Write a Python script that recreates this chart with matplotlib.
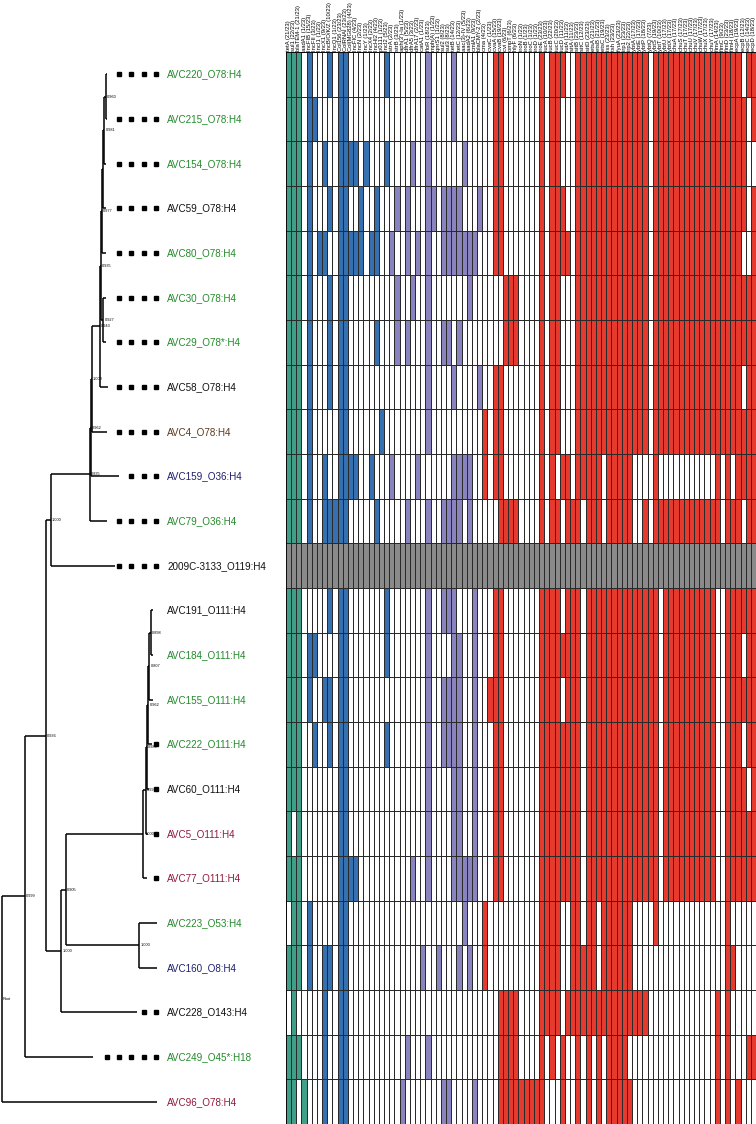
import numpy as np
import matplotlib.pyplot as plt
from matplotlib.colors import ListedColormap

# isolates, top to bottom, and the colour of their labels
isolates = ["AVC220_O78:H4", "AVC215_O78:H4", "AVC154_O78:H4", "AVC59_O78:H4",
            "AVC80_O78:H4", "AVC30_O78:H4", "AVC29_O78*:H4", "AVC58_O78:H4",
            "AVC4_O78:H4", "AVC159_O36:H4", "AVC79_O36:H4", "2009C-3133_O119:H4",
            "AVC191_O111:H4", "AVC184_O111:H4", "AVC155_O111:H4", "AVC222_O111:H4",
            "AVC60_O111:H4", "AVC5_O111:H4", "AVC77_O111:H4", "AVC223_O53:H4",
            "AVC160_O8:H4", "AVC228_O143:H4", "AVC249_O45*:H18", "AVC96_O78:H4"]
label_colors = ["g", "g", "g", "k", "g", "g", "g", "k", "b", "n", "g", "k",
                "k", "g", "g", "g", "k", "r", "r", "g", "n", "k", "g", "r"]
color_map = {"g": "#238a2b", "k": "#111111", "b": "#5a3b1e", "n": "#1f1f6e", "r": "#8e1b3b"}

# gene columns, by group
teal_genes = ["tetA", "sul1", "blaTEM-1", "aadA1"]
blue_genes = ["IncFIB", "IncFII", "IncI1", "IncX1", "IncB/O/K/Z", "IncQ1", "Col156", "ColRNAI",
              "Col(MG828)", "IncFIC", "IncN", "IncY", "IncX4", "IncHI2", "p0111", "IncI2"]
lav_genes = ["strA", "strB", "aph(3')-Ia", "dfrA1", "dfrA5", "dfrA17", "catA1", "floR", "mph(A)",
             "qnrS1", "sul2", "sul3", "tetB", "tetC", "aac(3)-IV", "aadA2", "cmlA1", "blaCMY-2"]
red_genes = ["cma", "cvaC", "cvaA", "cvaB", "cvi", "ompT", "hlyF", "iroN", "iroB", "iroC", "iroD",
             "iroE", "iucA", "iucB", "iucC", "iucD", "iutA", "sitA", "sitB", "sitC", "sitD", "etsA",
             "etsB", "etsC", "iss", "tsh", "fyuA", "irp1", "irp2", "ybtA", "ybtE", "ybtP", "ybtQ",
             "ybtS", "ybtT", "ybtU", "ybtX", "chuA", "chuS", "chuT", "chuU", "chuV", "chuW", "chuX",
             "chuY", "fimA", "fimC", "fimD", "fimH", "ecpA", "ecpB", "ecpC", "ecpD"]
group_colors = ["white", "#3f9f89", "#3571b0", "#8984bf", "#e63a2e", "#8a8a8a"]

# present genes per isolate (column indices), "ref" = reference strain row
presence = [
    "0-2,4,8,10-11,19,27,32,40-41,49,51-53,56-69,71-87,89-90",
    "0-2,4-5,10-11,27,32,40-41,49,51-52,56-69,71-88,90",
    "0-2,4,7,10-13,15,19,24,27,34,40-41,49,51-52,56-69,71-88",
    "0-2,4,8,10-11,14,17,21,23,27-28,30-33,37,40-41,49,51-53,56-69,71-88,90",
    "0-2,4,6-7,10-14,16-17,20,23,25,27,30-36,40-41,49,51-54,56-69,71-87,90",
    "0-2,4,8,10-11,21,24,27,35,42-44,49,51-52,56-69,71-90",
    "0-2,4,8,10-11,17,21,23,27,30-31,33,42-44,49,51-52,56-69,71-90",
    "0-2,4,8,10-11,27,32,37,40-41,49,51-52,56-69,71-87,89-90",
    "0-2,4,10-11,18,27,38,40-41,49,51-52,56-69,71-90",
    "0-2,4,7,10-13,16,20,25,32-35,38,40-41,49,51,53-54,56-60,62-66,71,83,85,87-90",
    "0-2,4,7-11,17,23,27,30-33,35,41-44,49,51-52,54-56,58-60,62-66,69,71-83,85-87,89-90",
    "ref",
    "0-2,8,10-11,19,27,30-32,36,40-41,49-52,54-56,58-71,73-82,85-90",
    "0-2,4-5,10-11,19,27,32-33,36,40-41,49-56,58-71,73-82,85-87,89-90",
    "0-2,4,7-8,10-11,27,30-33,36,39-41,49-52,54-56,58-71,73-82,85-90",
    "0-2,5,8,10-11,19,27,30-33,36,40-41,49-56,58-71,73-82,85-87,89-90",
    "0-2,10-11,27,32-33,36,40-41,49-56,58-71,73-82,85-88,90",
    "0,2,10-11,27,32-33,36,40-41,49-56,58-71,73-82,85-90",
    "0-2,10-13,24,27,32-36,40-41,49-56,58-71,73-82,85-90",
    "1-2,4,10-11,34,38,49-52,55-56,58-59,61-66,71,85",
    "0-2,4,7-8,10-11,26,29,33,35,38,49-52,55-59,61-66,85-86",
    "1,7,10-11,41-44,49-52,54-69,83,85",
    "0-2,7,10-11,23,27,41-44,49,51,53,56,58,60,62-65,83,85,89-90",
    "0-1,3,7,10-11,22,30-31,36,41-49,53,56,58,60,62-66,83,85,87",
]

# tree: tip depth of each isolate, then internal nodes (name, children, depth, support)
tip_depth = [0.1056, 0.1056, 0.1043, 0.1043, 0.1043, 0.1043, 0.1043, 0.1063, 0.1053, 0.1173,
             0.1053, 0.1133, 0.1510, 0.1510, 0.1510, 0.1500, 0.1476, 0.1463, 0.1450, 0.1556,
             0.1556, 0.1350, 0.0913, 0.1553]
nodes = [
    ("n1", ["AVC220_O78:H4", "AVC215_O78:H4"], 0.1043, "0.960"),
    ("n2", ["n1", "AVC154_O78:H4"], 0.1026, "0.981"),
    ("n3", ["n2", "AVC59_O78:H4"], 0.1010, ""),
    ("n4", ["n3", "AVC80_O78:H4"], 0.1000, "0.977"),
    ("n5", ["AVC30_O78:H4", "AVC29_O78*:H4"], 0.1016, "0.927"),
    ("n6", ["n4", "n5"], 0.0993, "0.935"),
    ("n7", ["n6", "AVC58_O78:H4"], 0.0983, "0.943"),
    ("n8", ["n7", "AVC4_O78:H4"], 0.0900, "1.000"),
    ("n9", ["n8", "AVC159_O36:H4"], 0.0890, "0.962"),
    ("n10", ["n9", "AVC79_O36:H4"], 0.0883, "0.835"),
    ("n11", ["n10", "2009C-3133_O119:H4"], 0.0490, "1.000"),
    ("m1", ["AVC191_O111:H4", "AVC184_O111:H4"], 0.1490, "0.898"),
    ("m2", ["m1", "AVC155_O111:H4"], 0.1476, "0.807"),
    ("m3", ["m2", "AVC222_O111:H4"], 0.1466, "0.962"),
    ("m4", ["m3", "AVC60_O111:H4"], 0.1453, "0.989"),
    ("m5", ["m4", "AVC5_O111:H4"], 0.1443, "0.991"),
    ("m6", ["m5", "AVC77_O111:H4"], 0.1416, "1.000"),
    ("m7", ["AVC223_O53:H4", "AVC160_O8:H4"], 0.1373, "1.000"),
    ("m8", ["m6", "m7"], 0.0640, "0.905"),
    ("m9", ["m8", "AVC228_O143:H4"], 0.0593, "1.000"),
    ("n12", ["n11", "m9"], 0.0440, "0.936"),
    ("n13", ["n12", "AVC249_O45*:H18"], 0.0233, "0.999"),
    ("root", ["n13", "AVC96_O78:H4"], 0.0, "Root"),
]

genes = teal_genes + blue_genes + lav_genes + red_genes
group_of = [1] * len(teal_genes) + [2] * len(blue_genes) + [3] * len(lav_genes) + [4] * len(red_genes)
n_rows, n_cols = len(isolates), len(genes)

mat = np.zeros((n_rows, n_cols))
for r, spec in enumerate(presence):
    if spec == "ref":
        mat[r, :] = 5
        continue
    for part in spec.split(","):
        if "-" in part:
            a, b = map(int, part.split("-"))
            idx = range(a, b + 1)
        else:
            idx = [int(part)]
        for c in idx:
            mat[r, c] = group_of[c]

fig = plt.figure(figsize=(7.56, 11.24), dpi=100)
W, H = 756.0, 1124.0
top = 52.0

# heatmap
axh = fig.add_axes([286 / W, 0, 470 / W, (H - top) / H])
axh.pcolormesh(np.arange(n_cols + 1), np.arange(n_rows + 1), mat,
               cmap=ListedColormap(group_colors), vmin=-0.5, vmax=5.5,
               edgecolors="#2a2a2a", linewidth=0.45)
axh.set_xlim(0, n_cols)
axh.set_ylim(n_rows, 0)
ref_rows = [r for r, s in enumerate(presence) if s == "ref"]
keep = [r for r in range(n_rows) if r not in ref_rows]
counts = (mat[keep] > 0).sum(axis=0)
axh.set_xticks(np.arange(n_cols) + 0.5)
axh.set_xticklabels([f"{g} ({c}/{len(keep)})" for g, c in zip(genes, counts)],
                    rotation=90, fontsize=4.2, family="Liberation Sans")
axh.xaxis.tick_top()
axh.tick_params(axis="x", length=0, pad=1)
axh.set_yticks([])
for s in axh.spines.values():
    s.set_linewidth(0.5)

# tree
axt = fig.add_axes([0, 0, 286 / W, (H - top) / H])
axt.set_xlim(-0.0017, 0.2843)
axt.set_ylim(n_rows, 0)
axt.axis("off")

pos = {name: (tip_depth[i], i + 0.5) for i, name in enumerate(isolates)}
for name, kids, depth, support in nodes:
    ys = [pos[k][1] for k in kids]
    y = np.mean(ys)
    pos[name] = (depth, y)
    axt.plot([depth, depth], [min(ys), max(ys)], color="black", lw=1.1, solid_capstyle="butt")
    for k in kids:
        axt.plot([depth, pos[k][0]], [pos[k][1], pos[k][1]], color="black", lw=1.1,
                 solid_capstyle="butt")
    if support:
        axt.text(depth + 0.0012, y, support, fontsize=2.8, va="center", ha="left",
                 family="Liberation Sans")

# dotted leaders and tip labels
dot_end, dot_step, label_x = 0.1543, 0.0123, 0.1656
for i, name in enumerate(isolates):
    d, y = pos[name]
    xs = np.arange(dot_end, d + 0.002, -dot_step)
    if len(xs) and dot_end - d > 0.004:
        axt.plot(xs, [y] * len(xs), ls="none", marker="s", ms=2.2, color="black")
    axt.text(label_x, y, name, fontsize=7.1, va="center", ha="left",
             color=color_map[label_colors[i]], family="Liberation Sans")

fig.savefig("out.png", dpi=100)
